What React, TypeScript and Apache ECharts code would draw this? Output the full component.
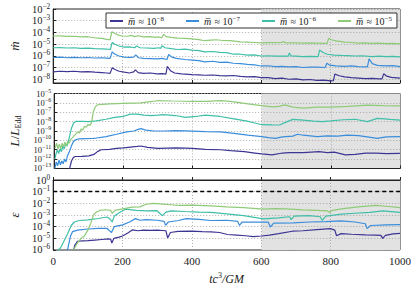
import React, { useEffect, useRef } from "react";
import * as echarts from "echarts";

const SERIF = "'Liberation Serif', 'DejaVu Serif', serif";

// series order: m̄ ≈ 1e-8, 1e-7, 1e-6, 1e-5
const SERIES_NAMES = ["m8", "m7", "m6", "m5"];
const LEGEND_EXPONENTS = ["−8", "−7", "−6", "−5"];
const COLORS = ["#3d3593", "#3a8ddb", "#3fbfa8", "#8fca78"];
const X_MIN = 0;
const X_MAX = 1000;
const X_INTERVAL = 200;
const SHADE_RANGE = [600, 1000];
// all y values are decimal exponents (log10 of the quantity), plotted on log-decade axes
const EPS_REFERENCE_EXP = -1;
const Y_RANGES: [number, number][] = [
  [-8.3, -2],
  [-13, -5],
  [-6, 0],
];
const AXIS_PAD = 1e-4;

// Panel 1: accretion rate  [t, log10(mdot)]
const mdotM8: [number, number][] = [[0,-7.36],[20,-7.3],[40,-7.34],[60,-7.3],[80,-7.35],[100,-7.33],[120,-7.38],[140,-7.42],[155,-7.45],[164,-7.48],[170,-7.01],[178,-7.15],[190,-7.3],[205,-7.38],[220,-7.45],[232,-7.35],[237,-7.18],[245,-7.42],[260,-7.48],[280,-7.45],[300,-7.52],[315,-7.5],[325,-7.55],[329,-6.88],[338,-7.25],[350,-7.45],[370,-7.52],[400,-7.58],[420,-7.6],[437,-7.64],[460,-7.62],[480,-7.68],[500,-7.7],[520,-7.66],[540,-7.74],[560,-7.78],[580,-7.76],[600,-7.85],[620,-7.85],[640,-7.92],[660,-7.88],[680,-7.98],[700,-7.95],[720,-8.03],[740,-8.0],[760,-8.08],[780,-8.05],[800,-8.12],[808,-8.1],[812,-7.55],[825,-7.68],[840,-7.78],[860,-7.85],[880,-7.88],[900,-7.93],[920,-7.9],[940,-7.95],[948,-7.95],[953,-7.52],[962,-7.72],[975,-7.82],[1000,-7.88]];
const mdotM7: [number, number][] = [[0,-6.13],[20,-6.1],[40,-6.15],[60,-6.12],[80,-6.15],[100,-6.13],[120,-6.17],[140,-6.15],[155,-6.18],[164,-6.2],[170,-5.65],[178,-5.85],[190,-6.0],[205,-6.1],[220,-6.12],[232,-6.1],[238,-5.9],[246,-6.15],[260,-6.2],[280,-6.22],[300,-6.25],[315,-6.2],[328,-6.3],[333,-5.87],[342,-6.1],[355,-6.2],[380,-6.3],[400,-6.35],[420,-6.4],[437,-6.5],[460,-6.45],[480,-6.55],[500,-6.52],[520,-6.62],[540,-6.65],[560,-6.72],[580,-6.75],[600,-6.85],[620,-6.83],[640,-6.9],[660,-6.88],[680,-6.92],[700,-6.9],[720,-6.98],[740,-6.95],[760,-6.95],[784,-6.98],[789,-6.62],[798,-6.78],[815,-6.85],[840,-6.88],[860,-6.85],[880,-6.9],[906,-6.92],[911,-6.25],[920,-6.65],[935,-6.8],[960,-6.85],[980,-6.82],[1000,-6.9]];
const mdotM6: [number, number][] = [[0,-5.3],[20,-5.28],[40,-5.32],[60,-5.3],[80,-5.35],[100,-5.33],[120,-5.38],[140,-5.4],[155,-5.42],[165,-5.43],[170,-4.85],[178,-5.0],[190,-5.15],[205,-5.25],[220,-5.22],[235,-5.3],[240,-5.15],[250,-5.3],[270,-5.32],[290,-5.35],[305,-5.3],[310,-5.35],[314,-5.12],[322,-5.3],[340,-5.38],[360,-5.45],[380,-5.42],[400,-5.5],[420,-5.55],[437,-5.65],[460,-5.62],[480,-5.7],[500,-5.72],[520,-5.85],[540,-5.85],[560,-5.92],[580,-5.9],[600,-6.0],[620,-5.98],[640,-6.02],[660,-6.0],[678,-6.02],[681,-5.75],[686,-6.0],[700,-6.02],[720,-6.05],[740,-6.03],[764,-6.05],[768,-5.5],[778,-5.7],[790,-5.85],[810,-5.92],[830,-5.95],[850,-5.97],[870,-6.0],[890,-5.98],[920,-6.05],[940,-6.02],[960,-6.05],[980,-6.04],[1000,-6.08]];
const mdotM5: [number, number][] = [[0,-4.3],[20,-4.28],[40,-4.33],[60,-4.32],[80,-4.38],[100,-4.36],[120,-4.45],[140,-4.5],[155,-4.58],[164,-4.62],[169,-3.94],[176,-4.05],[185,-4.2],[200,-4.3],[215,-4.32],[225,-4.25],[235,-4.35],[245,-4.28],[260,-4.38],[280,-4.35],[295,-4.42],[305,-4.38],[313,-4.45],[318,-4.17],[326,-4.35],[340,-4.42],[360,-4.48],[380,-4.5],[400,-4.55],[420,-4.6],[437,-4.7],[455,-4.65],[470,-4.62],[490,-4.68],[510,-4.7],[540,-4.8],[560,-4.82],[580,-4.85],[600,-4.88],[620,-4.86],[640,-4.87],[660,-4.85],[664,-4.76],[670,-4.88],[700,-4.88],[720,-4.9],[740,-4.88],[760,-4.9],[790,-4.93],[794,-4.5],[802,-4.62],[815,-4.72],[840,-4.82],[860,-4.85],[880,-4.9],[900,-4.88],[920,-4.92],[940,-4.9],[960,-4.95],[980,-4.93],[1000,-4.97]];

// Panel 2: luminosity  [t, log10(L/LEdd)]
const lumM8: [number, number][] = [[42,-13.5],[46,-12.8],[50,-12.2],[55,-11.85],[60,-11.72],[80,-11.7],[100,-11.65],[115,-11.5],[125,-11.2],[136,-11.0],[160,-10.95],[180,-10.85],[200,-10.8],[220,-10.72],[240,-10.65],[251,-10.6],[270,-10.75],[300,-10.85],[330,-10.82],[350,-10.8],[380,-10.82],[400,-10.85],[437,-10.96],[480,-11.0],[510,-11.1],[550,-11.2],[580,-11.35],[600,-11.45],[630,-11.55],[660,-11.35],[680,-11.3],[720,-11.3],[766,-11.2],[790,-11.3],[810,-11.25],[842,-11.55],[870,-11.5],[900,-11.35],[930,-11.35],[960,-11.42],[1000,-11.38]];
const lumM7: [number, number][] = [[2,-13.0],[6,-12.3],[10,-12.7],[14,-12.1],[18,-12.6],[22,-12.2],[26,-12.5],[30,-12.0],[34,-12.3],[38,-11.7],[45,-11.1],[52,-10.4],[58,-10.0],[70,-9.85],[90,-9.82],[110,-9.8],[122,-9.75],[150,-9.6],[180,-9.35],[210,-9.1],[230,-9.0],[245,-8.8],[251,-8.75],[265,-8.9],[290,-9.0],[320,-9.0],[350,-8.95],[380,-8.98],[437,-9.07],[480,-9.1],[520,-9.25],[560,-9.43],[600,-9.6],[620,-9.7],[640,-9.78],[660,-9.62],[690,-9.55],[704,-9.35],[720,-9.45],[761,-9.6],[790,-9.52],[820,-9.55],[848,-9.43],[880,-9.5],[910,-9.65],[934,-9.78],[960,-9.62],[1000,-9.6]];
const lumM6: [number, number][] = [[2,-12.0],[5,-11.5],[9,-11.0],[13,-11.4],[17,-10.9],[21,-11.2],[25,-10.6],[29,-10.9],[33,-10.4],[37,-10.6],[41,-10.1],[45,-9.5],[50,-8.7],[56,-8.15],[62,-7.98],[80,-7.97],[100,-8.0],[122,-7.92],[150,-7.75],[175,-7.55],[200,-7.45],[220,-7.2],[240,-7.2],[260,-7.3],[280,-7.35],[300,-7.3],[315,-7.25],[350,-7.35],[380,-7.55],[410,-7.45],[437,-7.3],[480,-7.45],[520,-7.7],[558,-7.95],[580,-8.15],[600,-8.33],[630,-8.35],[652,-8.36],[674,-8.0],[690,-7.76],[720,-7.85],[750,-7.95],[775,-8.0],[800,-7.92],[836,-7.8],[870,-7.75],[906,-8.0],[934,-7.65],[955,-7.7],[972,-7.76],[1000,-7.85]];
const lumM5: [number, number][] = [[3,-10.8],[7,-10.3],[11,-10.9],[15,-10.4],[19,-10.9],[23,-10.3],[27,-10.7],[31,-10.2],[35,-10.6],[39,-10.1],[43,-10.3],[48,-9.9],[53,-9.7],[58,-9.5],[63,-9.3],[68,-9.1],[73,-9.2],[78,-8.8],[83,-8.9],[88,-8.5],[93,-8.6],[98,-8.3],[103,-8.4],[108,-8.1],[113,-7.0],[118,-6.45],[125,-6.2],[140,-6.15],[160,-6.1],[200,-6.05],[250,-6.0],[285,-5.85],[300,-5.75],[340,-5.8],[400,-5.85],[437,-5.85],[484,-5.77],[520,-5.9],[560,-6.1],[600,-6.3],[630,-6.42],[650,-6.38],[667,-6.22],[690,-6.45],[720,-6.55],[760,-6.45],[800,-6.45],[850,-6.38],[906,-6.25],[950,-6.3],[1000,-6.33]];

// Panel 3: efficiency  [t, log10(eps)]
const effM8: [number, number][] = [[55,-6.5],[62,-5.6],[70,-5.25],[85,-5.22],[100,-5.2],[120,-5.15],[140,-5.1],[160,-5.05],[166,-5.1],[169,-5.4],[175,-5.0],[190,-4.9],[200,-4.8],[215,-4.55],[228,-4.28],[245,-4.35],[260,-4.3],[280,-4.32],[300,-4.3],[325,-4.35],[330,-4.97],[338,-4.5],[360,-4.4],[400,-4.38],[430,-4.42],[455,-4.44],[480,-4.5],[502,-4.67],[530,-4.72],[555,-4.78],[577,-4.86],[600,-4.8],[624,-4.72],[650,-4.6],[690,-4.39],[720,-4.35],[760,-4.25],[799,-4.17],[812,-4.3],[817,-4.78],[830,-4.6],[860,-4.65],[900,-4.7],[930,-4.72],[945,-4.75],[950,-5.0],[958,-4.75],[980,-4.62],[1000,-4.58]];
const effM7: [number, number][] = [[38,-6.5],[44,-5.6],[50,-4.8],[56,-4.42],[70,-4.3],[100,-4.2],[130,-4.14],[155,-4.14],[164,-4.4],[168,-4.5],[176,-4.0],[200,-3.85],[220,-3.6],[237,-3.31],[250,-3.45],[268,-3.39],[300,-3.45],[320,-3.55],[324,-3.89],[332,-3.6],[361,-3.47],[384,-3.31],[420,-3.38],[455,-3.47],[500,-3.45],[532,-3.55],[537,-3.89],[545,-3.6],[580,-3.61],[620,-3.6],[626,-4.03],[636,-3.7],[692,-3.67],[740,-3.6],[786,-3.56],[830,-3.5],[870,-3.6],[900,-3.75],[905,-4.17],[915,-3.9],[960,-3.85],[1000,-3.83]];
const effM6: [number, number][] = [[3,-6.5],[10,-6.1],[21,-5.83],[30,-5.3],[42,-4.58],[52,-3.9],[61,-3.6],[75,-3.47],[100,-3.42],[130,-3.3],[155,-3.17],[164,-3.35],[170,-3.6],[176,-3.1],[190,-2.8],[208,-2.5],[240,-2.6],[268,-2.64],[298,-2.62],[315,-3.06],[325,-2.75],[340,-2.64],[380,-2.7],[420,-2.75],[455,-2.78],[500,-2.9],[549,-3.06],[580,-3.2],[606,-3.33],[650,-3.25],[680,-3.15],[683,-3.19],[686,-3.4],[695,-3.1],[738,-3.06],[770,-3.15],[776,-3.47],[786,-3.1],[832,-2.92],[870,-2.85],[913,-2.78],[950,-2.64],[1000,-2.78]];
const effM5: [number, number][] = [[50,-6.5],[60,-5.9],[70,-5.4],[80,-5.0],[89,-4.83],[100,-4.3],[108,-3.72],[117,-2.95],[125,-2.75],[134,-2.61],[150,-2.55],[165,-2.6],[170,-2.85],[178,-2.6],[200,-2.47],[228,-2.33],[250,-2.3],[268,-2.08],[290,-2.0],[315,-2.06],[340,-2.12],[361,-2.17],[400,-2.15],[455,-2.22],[500,-2.3],[549,-2.36],[606,-2.5],[640,-2.45],[673,-2.48],[719,-2.56],[760,-2.6],[790,-2.64],[797,-2.78],[805,-2.6],[836,-2.45],[880,-2.3],[930,-2.17],[960,-2.25],[1000,-2.36]];

const PANELS = [
  [mdotM8, mdotM7, mdotM6, mdotM5],
  [lumM8, lumM7, lumM6, lumM5],
  [effM8, effM7, effM6, effM5],
];

const GRIDS = [
  { left: 46, width: 354, top: 9, height: 74 },
  { left: 46, width: 354, top: 93.5, height: 75 },
  { left: 46, width: 354, top: 180, height: 72 },
];
const TICK_FONT = [10.5, 8.5, 10.5];

const tickFormatter = (v: number) => {
  const r = Math.round(v);
  if (Math.abs(v - r) > 1e-3) return " ";
  const exp = r < 0 ? "−" + Math.abs(r) : String(r);
  return `{b|10}{s|${exp}}`;
};

const tickRich = (fs: number) => ({
  b: { fontFamily: SERIF, fontSize: fs, color: "#222", lineHeight: 8, height: 8, verticalAlign: "middle" as const },
  s: { fontFamily: SERIF, fontSize: fs * 0.7, color: "#222", lineHeight: 2, height: 2, verticalAlign: "top" as const },
});

const Y_NAMES = ["{i|ṁ}", "{i|L}{r|/}{i|L}{sub|Edd}", "{i|ε}"];
const Y_NAME_GAPS = [27, 27, 26];

export default function App() {
  const ref = useRef<HTMLDivElement>(null);
  useEffect(() => {
    if (!ref.current) return;
    const chart = echarts.init(ref.current, undefined, { renderer: "svg" });

    const xAxes = GRIDS.map((_, i) => ({
      type: "value",
      gridIndex: i,
      min: X_MIN,
      max: X_MAX,
      interval: X_INTERVAL,
      z: 2,
      axisLine: { show: true, lineStyle: { color: "#222", width: 1 } },
      axisTick: { show: true, inside: true, length: 3, lineStyle: { color: "#222" } },
      axisLabel: {
        show: i === 2,
        color: "#222",
        fontFamily: SERIF,
        fontSize: 11,
        margin: 5,
        showMinLabel: true,
        showMaxLabel: true,
        formatter: (v: number) => String(v),
      },
      splitLine: { show: true, lineStyle: { color: "#9a9a9a", type: [1, 2], width: 0.8 } },
      name: i === 2 ? "{i|tc}{s|3}{i|/GM}" : "",
      nameLocation: "middle",
      nameGap: 21,
      nameTextStyle: {
        rich: {
          i: { fontFamily: SERIF, fontStyle: "italic", fontSize: 12, color: "#222", lineHeight: 16, verticalAlign: "middle" },
          s: { fontFamily: SERIF, fontSize: 8, color: "#222", lineHeight: 7, verticalAlign: "top" },
        },
      },
    }));

    const yAxes = GRIDS.map((_, i) => ({
      type: "value",
      gridIndex: i,
      min: Y_RANGES[i][0] - AXIS_PAD,
      max: Y_RANGES[i][1] + AXIS_PAD,
      splitNumber: Math.round(Y_RANGES[i][1] - Y_RANGES[i][0]),
      minInterval: 1,
      maxInterval: 1,
      z: 2,
      axisLine: { show: true, lineStyle: { color: "#222", width: 1 } },
      axisTick: { show: true, inside: true, length: 3, lineStyle: { color: "#222" } },
      axisLabel: {
        show: true,
        formatter: tickFormatter,
        rich: tickRich(TICK_FONT[i]),
        margin: 3,
      },
      splitLine: { show: true, lineStyle: { color: "#9a9a9a", type: [1, 2], width: 0.8 } },
      name: Y_NAMES[i],
      nameLocation: "middle",
      nameRotate: 90,
      nameGap: Y_NAME_GAPS[i],
      nameTextStyle: {
        rich: {
          i: { fontFamily: SERIF, fontStyle: "italic", fontSize: 13, color: "#222", lineHeight: 16, verticalAlign: "middle" },
          r: { fontFamily: SERIF, fontSize: 13, color: "#222", lineHeight: 16, verticalAlign: "middle" },
          sub: { fontFamily: SERIF, fontSize: 8, color: "#222", lineHeight: 7, verticalAlign: "bottom" },
        },
      },
    }));

    const series: any[] = [];
    GRIDS.forEach((_, p) => {
      series.push({
        type: "line",
        name: "shade" + p,
        xAxisIndex: p,
        yAxisIndex: p,
        data: [[SHADE_RANGE[0], Y_RANGES[p][1]], [SHADE_RANGE[1], Y_RANGES[p][1]]],
        symbol: "none",
        lineStyle: { opacity: 0 },
        silent: true,
        z: 1,
        markArea: {
          silent: true,
          itemStyle: { color: "#e2e2e2", opacity: 1 },
          data: [[{ xAxis: SHADE_RANGE[0] }, { xAxis: SHADE_RANGE[1] }]],
        },
      });
      PANELS[p].forEach((arr, k) => {
        series.push({
          type: "line",
          name: SERIES_NAMES[k],
          xAxisIndex: p,
          yAxisIndex: p,
          data: arr,
          symbol: "none",
          showSymbol: false,
          clip: true,
          z: 3,
          lineStyle: { width: 1.2, color: COLORS[k] },
          itemStyle: { color: COLORS[k] },
        });
      });
    });
    series.push({
      type: "line",
      name: "epsref",
      xAxisIndex: 2,
      yAxisIndex: 2,
      data: [],
      z: 4,
      silent: true,
      markLine: {
        silent: true,
        symbol: "none",
        label: { show: false },
        lineStyle: { type: [4, 3], color: "#000", width: 1.3 },
        data: [{ yAxis: EPS_REFERENCE_EXP }],
      },
    });

    chart.setOption({
      animation: false,
      grid: GRIDS.map((g) => ({ ...g, show: true, borderColor: "#222", borderWidth: 1, backgroundColor: "transparent" })),
      xAxis: xAxes,
      yAxis: yAxes,
      legend: {
        data: SERIES_NAMES.map((n, k) => ({ name: n, icon: "rect", itemStyle: { color: COLORS[k] } })),
        left: 106,
        top: 13,
        orient: "horizontal",
        itemWidth: 13,
        itemHeight: 2,
        itemGap: 22,
        padding: [2, 5, 1, 4],
        backgroundColor: "#fff",
        borderColor: "#333",
        borderWidth: 1,
        borderRadius: 0,
        z: 10,
        formatter: (name: string) => {
          const k = SERIES_NAMES.indexOf(name);
          return `{m|m\u0305} {r|≈ 10}{s|${LEGEND_EXPONENTS[k]}}`;
        },
        textStyle: {
          rich: {
            m: { fontFamily: SERIF, fontStyle: "italic", fontSize: 10, color: "#222", lineHeight: 12, verticalAlign: "middle" },
            r: { fontFamily: SERIF, fontSize: 10, color: "#222", lineHeight: 12, verticalAlign: "middle" },
            s: { fontFamily: SERIF, fontSize: 7, color: "#222", lineHeight: 4, verticalAlign: "top" },
          },
        },
      },
      series,
    });
    return () => chart.dispose();
  }, []);
  return <div ref={ref} style={{ width: 415, height: 286, position: "absolute", left: 0, top: 0 }} />;
}
